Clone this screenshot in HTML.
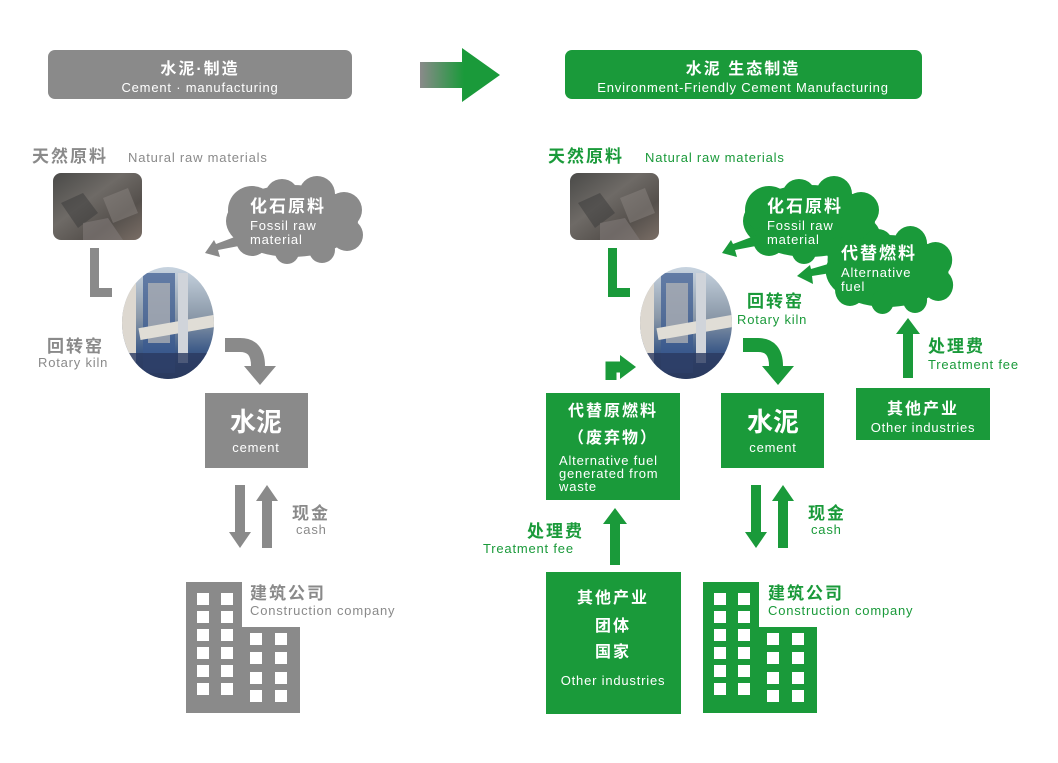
<!DOCTYPE html>
<html><head><meta charset="utf-8">
<style>
html,body{margin:0;padding:0;background:#fff;}
svg{display:block;}
text{font-family:"Liberation Sans","Noto Sans CJK SC",sans-serif;}
.cn{font-weight:bold;letter-spacing:2px;}
.en{letter-spacing:0.8px;}
</style></head><body>
<svg width="1058" height="763" viewBox="0 0 1058 763" xmlns="http://www.w3.org/2000/svg">
<defs>
<linearGradient id="ag" x1="0" x2="1" y1="0" y2="0">
<stop offset="0" stop-color="#8a8a8a"/><stop offset="0.55" stop-color="#1a9a3a"/></linearGradient>
<linearGradient id="rock" x1="0" y1="0" x2="1" y2="1">
<stop offset="0" stop-color="#4a4a48"/><stop offset="0.4" stop-color="#6e6a66"/><stop offset="0.7" stop-color="#55504c"/><stop offset="1" stop-color="#7a6e66"/></linearGradient>
<linearGradient id="kiln" x1="0" y1="0" x2="0" y2="1">
<stop offset="0" stop-color="#c8d4e0"/><stop offset="0.45" stop-color="#8a98a8"/><stop offset="0.75" stop-color="#3c5a88"/><stop offset="1" stop-color="#2a3a58"/></linearGradient>
<clipPath id="ke"><ellipse cx="0" cy="0" rx="46" ry="56"/></clipPath>
<g id="rockimg">
<rect x="0" y="0" width="89" height="67" rx="8" fill="url(#rock)"/>
<path d="M8 30 L30 20 L45 40 L25 55 Z" fill="#3a3a3a" opacity=".5"/>
<path d="M50 25 L75 15 L85 40 L60 50 Z" fill="#8a8480" opacity=".5"/>
<path d="M30 50 L55 45 L70 67 L30 67 Z" fill="#807a78" opacity=".6"/>
</g>
<g id="kilnimg">
<g clip-path="url(#ke)">
<rect x="-46" y="-56" width="92" height="112" fill="url(#kiln)"/>
<rect x="-46" y="-56" width="14" height="112" fill="#ddd8d0"/>
<rect x="-25" y="-50" width="32" height="100" fill="#3a5a90" opacity=".7"/>
<rect x="-20" y="-40" width="22" height="60" fill="#b8b8b8" opacity=".7"/>
<rect x="-30" y="0" width="76" height="12" fill="#e0ddd6" transform="rotate(-10)"/>
<rect x="10" y="-50" width="10" height="90" fill="#d0d4da"/>
<rect x="-46" y="30" width="92" height="26" fill="#2a3a60" opacity=".8"/>
</g>
</g>
<g id="cloud">
<ellipse cx="70" cy="41" rx="66" ry="36"/>
<circle cx="30" cy="30" r="24"/><circle cx="60" cy="16" r="17"/><circle cx="95" cy="14" r="18"/>
<circle cx="122" cy="30" r="18"/><circle cx="125" cy="55" r="16"/><circle cx="100" cy="70" r="13"/>
<circle cx="65" cy="72" r="12"/><circle cx="30" cy="60" r="16"/>
</g>
<g id="bldg">
<rect x="0" y="2" width="56" height="131"/>
<rect x="56" y="47" width="58" height="86"/>
<g fill="#fff">
<rect x="11" y="13" width="12" height="12"/><rect x="35" y="13" width="12" height="12"/>
<rect x="11" y="31" width="12" height="12"/><rect x="35" y="31" width="12" height="12"/>
<rect x="11" y="49" width="12" height="12"/><rect x="35" y="49" width="12" height="12"/>
<rect x="11" y="67" width="12" height="12"/><rect x="35" y="67" width="12" height="12"/>
<rect x="11" y="85" width="12" height="12"/><rect x="35" y="85" width="12" height="12"/>
<rect x="11" y="103" width="12" height="12"/><rect x="35" y="103" width="12" height="12"/>
<rect x="64" y="53" width="12" height="12"/><rect x="89" y="53" width="12" height="12"/>
<rect x="64" y="72" width="12" height="12"/><rect x="89" y="72" width="12" height="12"/>
<rect x="64" y="92" width="12" height="12"/><rect x="89" y="92" width="12" height="12"/>
<rect x="64" y="110" width="12" height="12"/><rect x="89" y="110" width="12" height="12"/>
</g>
</g>
<g id="updown">
<polygon points="5,0 15,0 15,47 21,47 10,63 -1,47 5,47"/>
<polygon points="32,63 42,63 42,16 48,16 37,0 26,16 32,16"/>
</g>
</defs>

<!-- headers -->
<rect x="48" y="50" width="304" height="49" rx="7" fill="#8a8a8a"/>
<text x="200" y="74" fill="#fff" font-size="16" text-anchor="middle" class="cn">水泥·制造</text>
<text x="200" y="92" fill="#fff" font-size="13" text-anchor="middle" class="en">Cement · manufacturing</text>
<polygon points="420,62 462,62 462,48 500,75 462,102 462,88 420,88" fill="url(#ag)"/>
<rect x="565" y="50" width="357" height="49" rx="7" fill="#1a9a3a"/>
<text x="743" y="74" fill="#fff" font-size="16" text-anchor="middle" class="cn">水泥 生态制造</text>
<text x="743" y="92" fill="#fff" font-size="13" text-anchor="middle" class="en">Environment-Friendly Cement Manufacturing</text>

<!-- LEFT -->
<text x="32" y="162" fill="#8a8a8a" font-size="17" class="cn">天然原料</text>
<text x="128" y="162" fill="#8a8a8a" font-size="13" class="en">Natural raw materials</text>
<use href="#rockimg" x="53" y="173"/>
<polygon points="90,248 99,248 99,288 112,288 112,297 90,297" fill="#8a8a8a"/>
<use href="#kilnimg" transform="translate(168,323)"/>
<g fill="#8a8a8a">
<use href="#cloud" x="222" y="180"/>
<polygon points="240,235 244,245 218,250 220,257 205,253 214,240 216,244"/>
</g>
<text x="250" y="212" fill="#fff" font-size="17" class="cn">化石原料</text>
<text x="250" y="230" fill="#fff" font-size="13" class="en">Fossil raw</text>
<text x="250" y="244" fill="#fff" font-size="13" class="en">material</text>
<text x="47" y="352" fill="#8a8a8a" font-size="17" class="cn">回转窑</text>
<text x="38" y="367" fill="#8a8a8a" font-size="13" class="en">Rotary kiln</text>
<path d="M225 345 L240 345 Q258 345 258 366" fill="none" stroke="#8a8a8a" stroke-width="14"/>
<polygon points="244,366 276,366 260,385" fill="#8a8a8a"/>
<rect x="205" y="393" width="103" height="75" fill="#8a8a8a"/>
<text x="256" y="431" fill="#fff" font-size="26" text-anchor="middle" font-weight="bold">水泥</text>
<text x="256" y="452" fill="#fff" font-size="13" text-anchor="middle" class="en">cement</text>
<use href="#updown" x="230" y="485" fill="#8a8a8a"/>
<text x="292" y="519" fill="#8a8a8a" font-size="17" class="cn">现金</text>
<text x="296" y="534" fill="#8a8a8a" font-size="13" class="en">cash</text>
<use href="#bldg" x="186" y="580" fill="#8a8a8a"/>
<text x="250" y="599" fill="#8a8a8a" font-size="17" class="cn">建筑公司</text>
<text x="250" y="615" fill="#8a8a8a" font-size="13" class="en">Construction company</text>

<!-- RIGHT -->
<g fill="#1a9a3a">
<text x="548" y="162" font-size="17" class="cn">天然原料</text>
<text x="645" y="162" font-size="13" class="en">Natural raw materials</text>
<polygon points="608,248 617,248 617,288 630,288 630,297 608,297"/>
<use href="#cloud" x="739" y="180"/>
<polygon points="757,235 761,245 735,250 737,257 722,253 731,240 733,244"/>
<use href="#cloud" transform="translate(822,230) scale(0.93,1)"/>
<polygon points="835,262 837,272 812,276 813,284 797,276 810,265 811,269"/>
</g>
<text x="767" y="212" fill="#fff" font-size="17" class="cn">化石原料</text>
<text x="767" y="230" fill="#fff" font-size="13" class="en">Fossil raw</text>
<text x="767" y="244" fill="#fff" font-size="13" class="en">material</text>
<text x="841" y="259" fill="#fff" font-size="17" class="cn">代替燃料</text>
<text x="841" y="277" fill="#fff" font-size="13" class="en">Alternative</text>
<text x="841" y="291" fill="#fff" font-size="13" class="en">fuel</text>
<use href="#rockimg" x="570" y="173"/>
<use href="#kilnimg" transform="translate(686,323)"/>
<g fill="#1a9a3a">
<text x="747" y="307" font-size="17" class="cn">回转窑</text>
<text x="737" y="324" font-size="13" class="en">Rotary kiln</text>
</g>
<path d="M743 345 L758 345 Q776 345 776 366" fill="none" stroke="#1a9a3a" stroke-width="14"/>
<polygon points="762,366 794,366 778,385" fill="#1a9a3a"/>
<path d="M611 380 L611 367 L622 367" fill="none" stroke="#1a9a3a" stroke-width="11"/>
<polygon points="620,355 636,367 620,379" fill="#1a9a3a"/>
<g fill="#1a9a3a">
<rect x="721" y="393" width="103" height="75"/>
<rect x="546" y="393" width="134" height="107"/>
<rect x="856" y="388" width="134" height="52"/>
<rect x="546" y="572" width="135" height="142"/>
<polygon points="903,378 913,378 913,334 920,334 908,318 896,334 903,334"/>
<polygon points="610,565 620,565 620,524 627,524 615,508 603,524 610,524"/>
<text x="928" y="352" font-size="17" class="cn">处理费</text>
<text x="928" y="369" font-size="13" class="en">Treatment fee</text>
<text x="527" y="537" font-size="17" class="cn">处理费</text>
<text x="483" y="553" font-size="13" class="en">Treatment fee</text>
<text x="808" y="519" font-size="17" class="cn">现金</text>
<text x="811" y="534" font-size="13" class="en">cash</text>
<text x="768" y="599" font-size="17" class="cn">建筑公司</text>
<text x="768" y="615" font-size="13" class="en">Construction company</text>
</g>
<text x="773" y="431" fill="#fff" font-size="26" text-anchor="middle" font-weight="bold">水泥</text>
<text x="773" y="452" fill="#fff" font-size="13" text-anchor="middle" class="en">cement</text>
<text x="613" y="416" fill="#fff" font-size="16" text-anchor="middle" class="cn">代替原燃料</text>
<text x="613" y="443" fill="#fff" font-size="16" text-anchor="middle" class="cn">（废弃物）</text>
<text x="559" y="465" fill="#fff" font-size="13" class="en">Alternative fuel</text>
<text x="559" y="478" fill="#fff" font-size="13" class="en">generated from</text>
<text x="559" y="491" fill="#fff" font-size="13" class="en">waste</text>
<text x="923" y="414" fill="#fff" font-size="16" text-anchor="middle" class="cn">其他产业</text>
<text x="923" y="432" fill="#fff" font-size="13" text-anchor="middle" class="en">Other industries</text>
<text x="613" y="603" fill="#fff" font-size="16" text-anchor="middle" class="cn">其他产业</text>
<text x="613" y="631" fill="#fff" font-size="16" text-anchor="middle" class="cn">团体</text>
<text x="613" y="657" fill="#fff" font-size="16" text-anchor="middle" class="cn">国家</text>
<text x="613" y="685" fill="#fff" font-size="13" text-anchor="middle" class="en">Other industries</text>
<use href="#updown" x="746" y="485" fill="#1a9a3a"/>
<use href="#bldg" x="703" y="580" fill="#1a9a3a"/>
</svg>
</body></html>
